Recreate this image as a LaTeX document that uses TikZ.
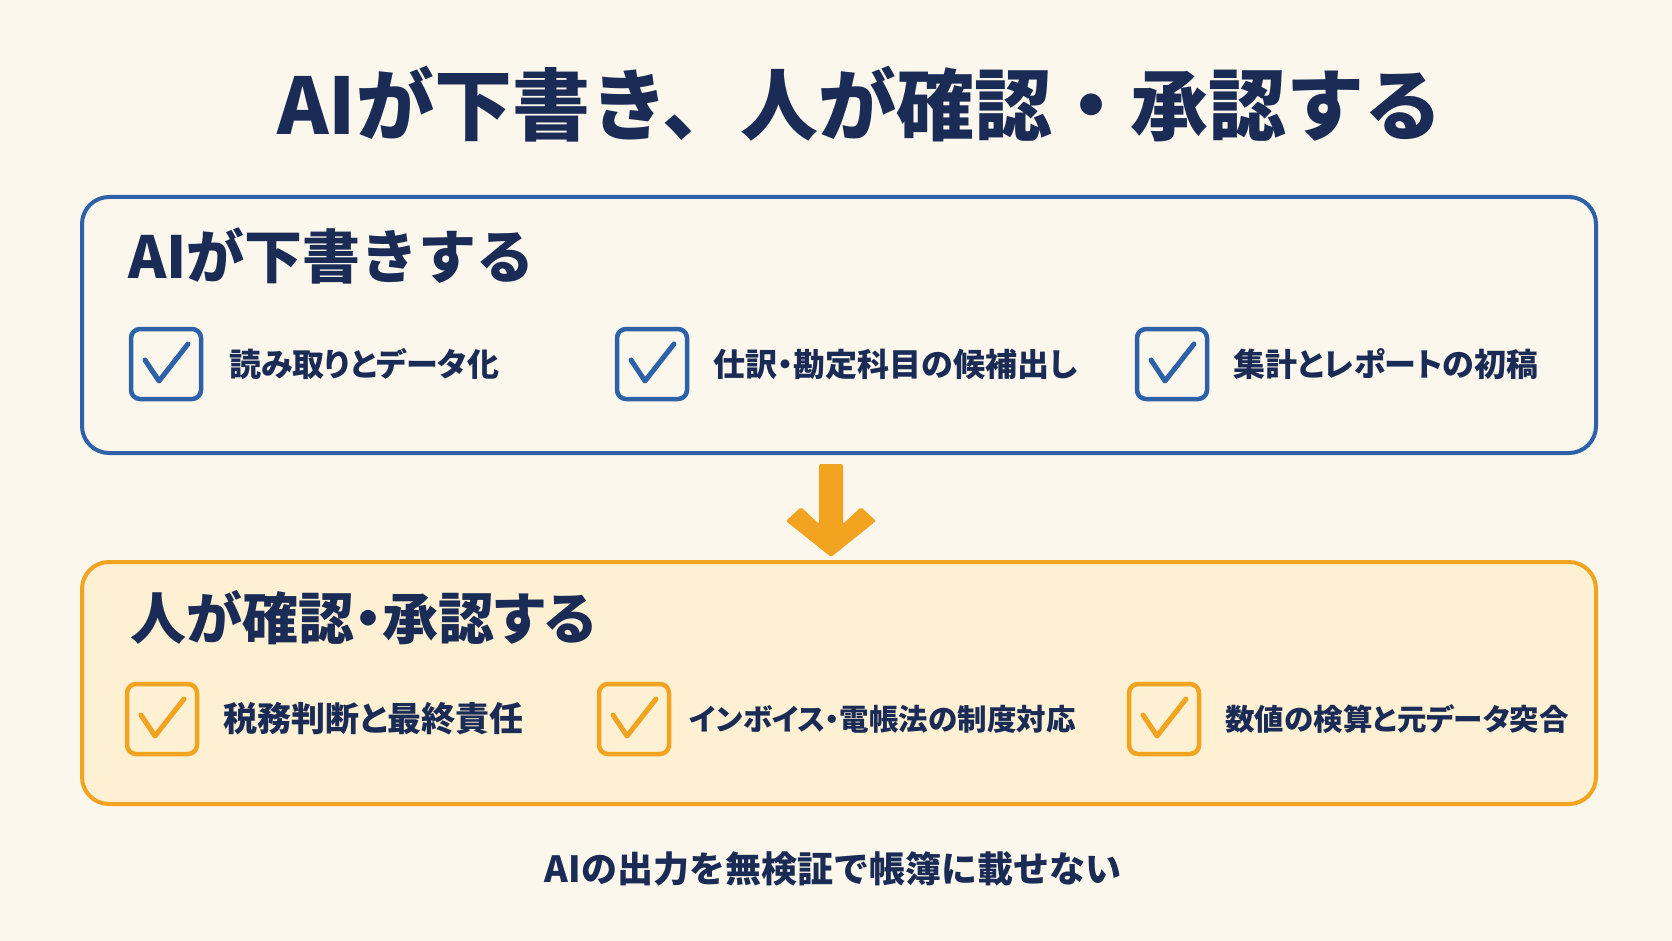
\documentclass[tikz,border=0pt]{standalone}
\usepackage{fontspec}
\usepackage{tikz}
\usetikzlibrary{positioning}
\newfontfamily\jpfont{Noto Sans CJK JP}
\newfontfamily\jpnarrow{Noto Sans CJK JP}[RawFeature=+palt]
\definecolor{bgcream}{HTML}{FBF7EC}
\definecolor{navy}{HTML}{1A2B55}
\definecolor{aiblue}{HTML}{2D62A9}
\definecolor{humorange}{HTML}{F2A31F}
\definecolor{humfill}{HTML}{FDF0D3}
\tikzset{
  panel/.style={draw, line width=4pt, rounded corners=27pt, inner sep=0pt, anchor=north west},
  chkbox/.style={draw=#1, line width=4.5pt, rounded corners=9pt, minimum size=70pt, inner sep=0pt},
  tickline/.style={line width=5pt, line cap=round, line join=round},
  headtxt/.style={anchor=west, inner sep=0pt, text=navy, font=\jpfont\bfseries\fontsize{58}{66}\selectfont},
  itemtxt/.style={anchor=west, inner sep=0pt, text=navy, font=\jpnarrow\bfseries\fontsize{#1}{38}\selectfont},
  itemtxt/.default=32,
}
\newcommand{\tickmark}[2]{\draw[tickline, draw=#2] ([shift={(-21,-4)}]#1.center) -- ([shift={(-7,17)}]#1.center) -- ([shift={(22,-20)}]#1.center);}

\begin{document}
\begin{tikzpicture}[x=1pt,y=-1pt]
    \useasboundingbox (0,0) rectangle (1672,941);
    \fill[bgcream] (0,0) rectangle (1672,941);
    % title
    \node[text=navy, font=\jpfont\bfseries\fontsize{78}{90}\selectfont] (title) at (860,104) {AIが下書き、人が確認・承認する};
    % AI panel
    \node[panel, draw=aiblue, minimum width=1514pt, minimum height=256pt] (aipanel) at (80,195) {};
    \node[headtxt] (aihead) at (128,256) {AIが下書きする};
    \node[chkbox=aiblue] (ca) at (166,364) {};
    \node[chkbox=aiblue] (cb) at (652,364) {};
    \node[chkbox=aiblue] (cc) at (1172,364) {};
    \tickmark{ca}{aiblue}
    \tickmark{cb}{aiblue}
    \tickmark{cc}{aiblue}
    \node[itemtxt, right=26pt of ca] (ta) {読み取りとデータ化};
    \node[itemtxt, right=24pt of cb] (tb) {仕訳・勘定科目の候補出し};
    \node[itemtxt, right=24pt of cc] (tc) {集計とレポートの初稿};
    % arrow
    \coordinate (arrtop) at (831,464);
    \fill[humorange, rounded corners=2pt] (arrtop) ++(-12,0) -- ++(24,0) -- ++(0,60) -- ++(18,-17) -- ++(15,14)
        -- ++(-45,36) -- ++(-45,-36) -- ++(15,-14) -- ++(18,17) -- cycle;
    % human panel
    \node[panel, draw=humorange, fill=humfill, minimum width=1514pt, minimum height=242pt] (humpanel) at (80,560) {};
    \node[headtxt, font=\jpnarrow\bfseries\fontsize{56}{66}\selectfont] (humhead) at (130,618) {人が確認・承認する};
    \node[chkbox=humorange] (cd) at (162,719) {};
    \node[chkbox=humorange] (ce) at (634,719) {};
    \node[chkbox=humorange] (cf) at (1164,719) {};
    \tickmark{cd}{humorange}
    \tickmark{ce}{humorange}
    \tickmark{cf}{humorange}
    \node[itemtxt=34, right=24pt of cd] (td) {税務判断と最終責任};
    \node[itemtxt=29.5, right=18pt of ce] (te) {インボイス・電帳法の制度対応};
    \node[itemtxt=29.5, right=24pt of cf] (tf) {数値の検算と元データ突合};
    % note
    \node[text=navy, font=\jpfont\bfseries\fontsize{36}{42}\selectfont] (note) at (833,869) {AIの出力を無検証で帳簿に載せない};
\end{tikzpicture}
\end{document}
